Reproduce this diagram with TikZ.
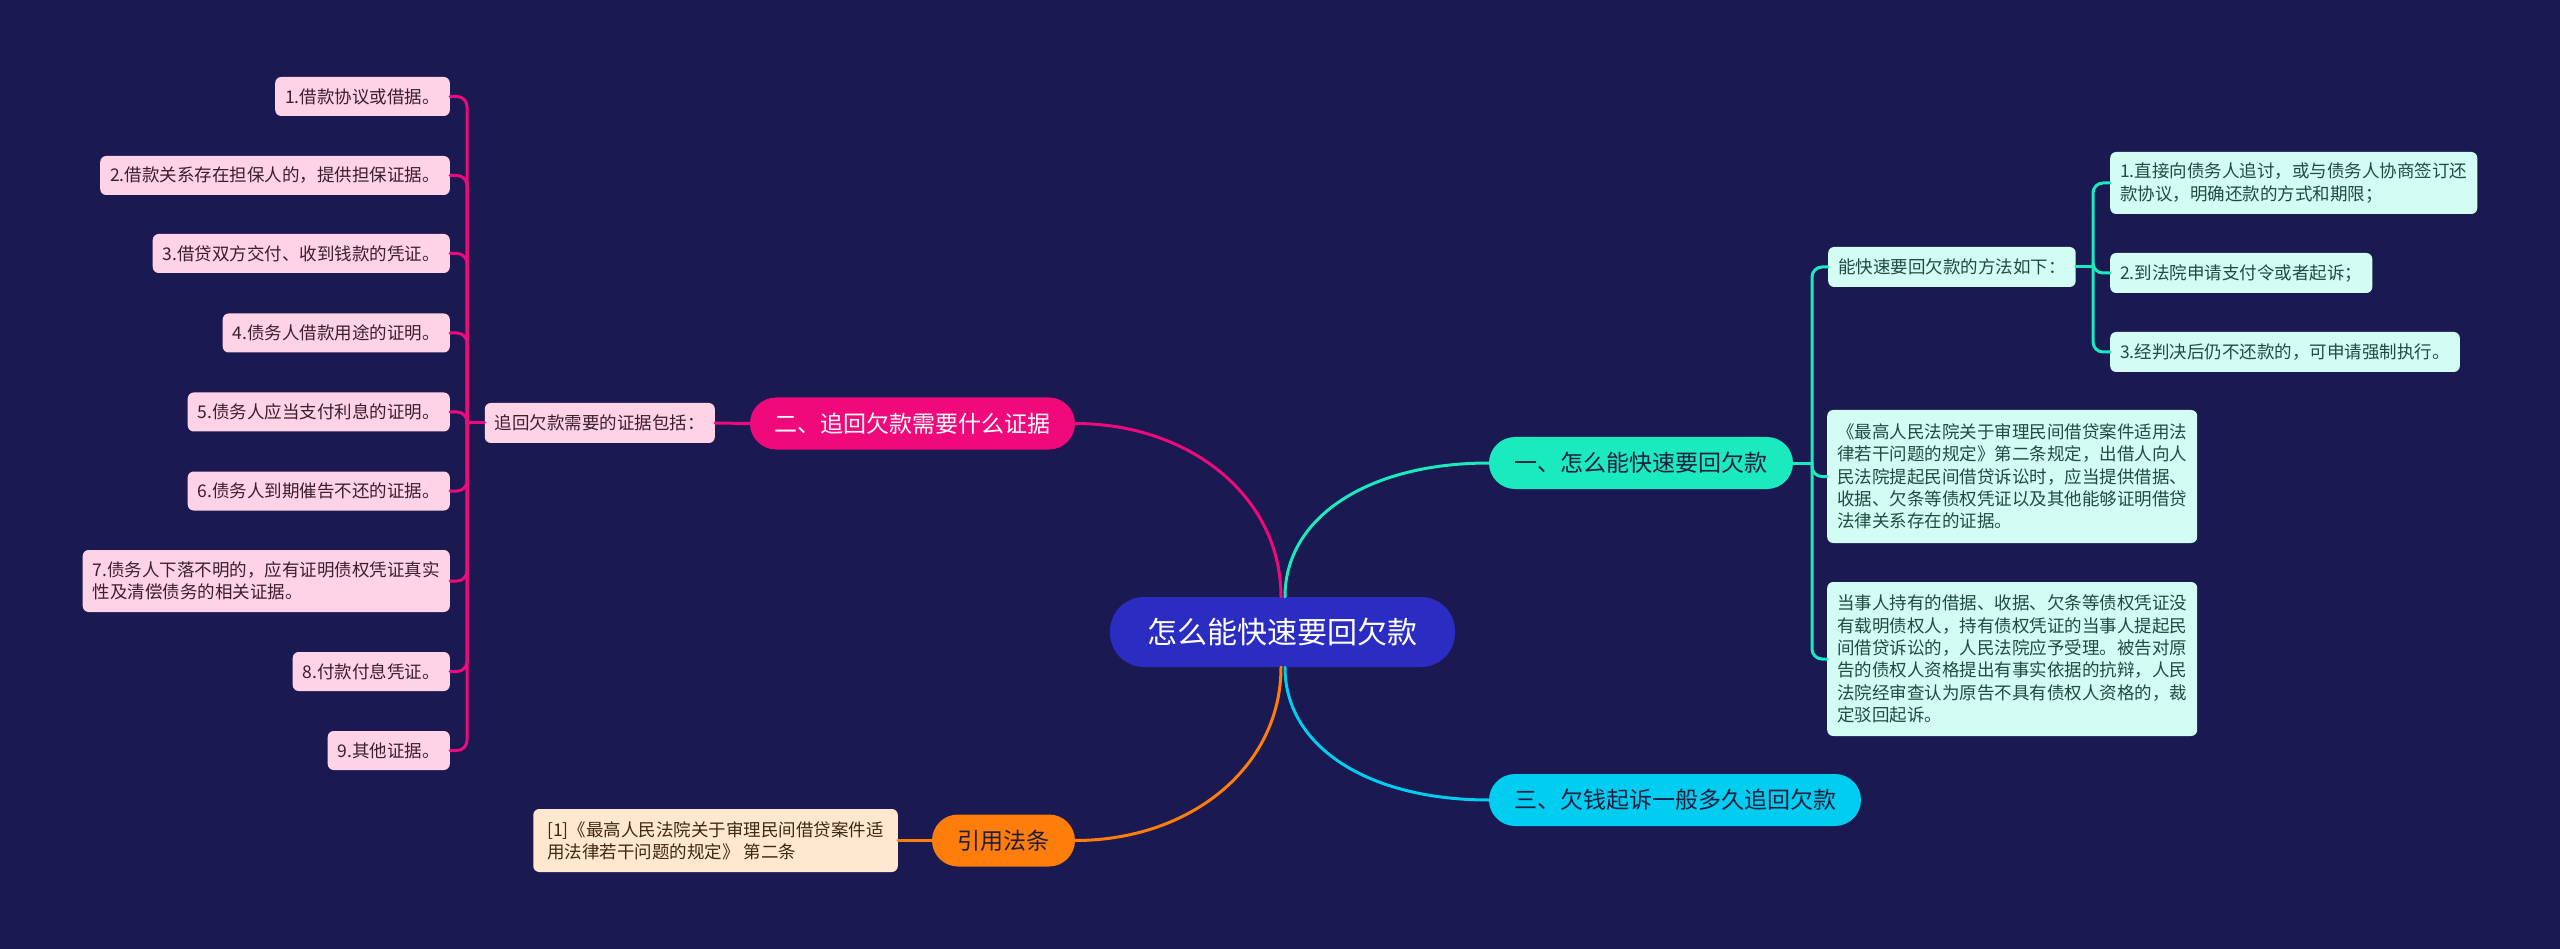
\documentclass[tikz,border=0pt]{standalone}
\usepackage{fontspec}
\setmainfont{Noto Sans CJK SC}
\definecolor{bg}{HTML}{1A1952}
\definecolor{rootc}{HTML}{2A2CC2}
\definecolor{tealc}{HTML}{1BE9BE}
\definecolor{pinkc}{HTML}{F0097B}
\definecolor{cyanc}{HTML}{00CDEF}
\definecolor{orangec}{HTML}{FF7D0A}
\definecolor{tealbox}{HTML}{D3FCF2}
\definecolor{pinkbox}{HTML}{FFD3E6}
\definecolor{orangebox}{HTML}{FFE8CF}
\definecolor{tealtext}{HTML}{1E4C45}
\definecolor{pinktext}{HTML}{3A1F2D}
\definecolor{orangetext}{HTML}{3D2A14}
\definecolor{darktext}{HTML}{1D1D3F}
\tikzset{
  rootbox/.style={fill=rootc, text=white, rounded corners=34, minimum width=345, minimum height=70, inner sep=0, font=\fontsize{30}{36}\selectfont},
  branchbox/.style={rounded corners=26, minimum height=52, inner sep=0, font=\fontsize{23}{28}\selectfont},
  leafbox/.style={rounded corners=6, inner xsep=10, inner ysep=0, align=left, font=\fontsize{17.5}{22.3}\selectfont},
  tleaf/.style={leafbox, fill=tealbox, text=tealtext},
  pleaf/.style={leafbox, fill=pinkbox, text=pinktext},
  oleaf/.style={leafbox, fill=orangebox, text=orangetext},
  link/.style={line width=3, line cap=round},
  brk/.style={link, rounded corners=10}
}
\begin{document}
\begin{tikzpicture}[x=1pt,y=-1pt]
\fill[bg] (0,0) rectangle (2560,949);
\useasboundingbox (0,0) rectangle (2560,949);

% central
\node[rootbox] (root) at (1282.5,632) {怎么能快速要回欠款};

% branches
\node[branchbox, fill=tealc, text=darktext, minimum width=304] (B1) at (1641,463) {一、怎么能快速要回欠款};
\node[branchbox, fill=pinkc, text=white, minimum width=325] (B2) at (912.5,423.5) {二、追回欠款需要什么证据};
\node[branchbox, fill=cyanc, text=darktext, minimum width=372] (B3) at (1675,800) {三、欠钱起诉一般多久追回欠款};
\node[branchbox, fill=orangec, text=darktext, minimum width=143] (B4) at (1003.5,840.5) {引用法条};

% root connectors
\draw[link, pinkc] ([xshift=-1.5pt]root.north) .. controls +(0,-100) and +(115,0) .. (B2.east);
\draw[link, tealc] ([xshift=2.5pt]root.north) .. controls +(0,-80) and +(-120,0) .. (B1.west);
\draw[link, orangec] ([xshift=-1.5pt]root.south) .. controls +(0,100) and +(115,0) .. (B4.east);
\draw[link, cyanc] ([xshift=2.5pt]root.south) .. controls +(0,80) and +(-120,0) .. (B3.west);

% branch 1 children
\node[tleaf, anchor=west, minimum height=40] (C1) at (1828,267) {能快速要回欠款的方法如下：};
\node[tleaf, anchor=west, minimum height=133] (C2) at (1827,476.5) {《最高人民法院关于审理民间借贷案件适用法\\律若干问题的规定》第二条规定，出借人向人\\民法院提起民间借贷诉讼时，应当提供借据、\\收据、欠条等债权凭证以及其他能够证明借贷\\法律关系存在的证据。};
\node[tleaf, anchor=west, minimum height=154] (C3) at (1827,659) {当事人持有的借据、收据、欠条等债权凭证没\\有载明债权人，持有债权凭证的当事人提起民\\间借贷诉讼的，人民法院应予受理。被告对原\\告的债权人资格提出有事实依据的抗辩，人民\\法院经审查认为原告不具有债权人资格的，裁\\定驳回起诉。};

\coordinate (rb) at (1812,463);
\draw[link, tealc] (B1.east) -- (rb);
\draw[brk, tealc] (rb) |- (C1.west);
\draw[brk, tealc] (rb) |- (C2.west);
\draw[brk, tealc] (rb) |- (C3.west);

% grandchildren
\node[tleaf, anchor=west, minimum height=62] (G1) at (2110,183) {1.直接向债务人追讨，或与债务人协商签订还\\款协议，明确还款的方式和期限；};
\node[tleaf, anchor=west, minimum height=40] (G2) at (2110,273) {2.到法院申请支付令或者起诉；};
\node[tleaf, anchor=west, minimum height=40] (G3) at (2110,352) {3.经判决后仍不还款的，可申请强制执行。};

\coordinate (cb) at (2093,267);
\draw[link, tealc] (C1.east) -- (cb);
\draw[brk, tealc] (cb) |- (G1.west);
\draw[brk, tealc] (cb) |- (G2.west);
\draw[brk, tealc] (cb) |- (G3.west);

% branch 2 children
\node[pleaf, anchor=east, minimum height=40] (L0) at (715,423) {追回欠款需要的证据包括：};
\draw[link, pinkc] (B2.west) -- (L0.east);

\node[pleaf, anchor=east, minimum height=39] (P1) at (450,96.5) {1.借款协议或借据。};
\node[pleaf, anchor=east, minimum height=39] (P2) at (450,175.5) {2.借款关系存在担保人的，提供担保证据。};
\node[pleaf, anchor=east, minimum height=39] (P3) at (450,253.5) {3.借贷双方交付、收到钱款的凭证。};
\node[pleaf, anchor=east, minimum height=39] (P4) at (450,333) {4.债务人借款用途的证明。};
\node[pleaf, anchor=east, minimum height=39] (P5) at (450,412) {5.债务人应当支付利息的证明。};
\node[pleaf, anchor=east, minimum height=39] (P6) at (450,491) {6.债务人到期催告不还的证据。};
\node[pleaf, anchor=east, minimum height=62] (P7) at (450,581) {7.债务人下落不明的，应有证明债权凭证真实\\性及清偿债务的相关证据。};
\node[pleaf, anchor=east, minimum height=39] (P8) at (450,671.5) {8.付款付息凭证。};
\node[pleaf, anchor=east, minimum height=39] (P9) at (450,750.5) {9.其他证据。};

\coordinate (lb) at (467,423);
\draw[link, pinkc] (L0.west) -- (lb);
\foreach \i in {1,...,9} {
  \draw[brk, pinkc] (lb) |- (P\i.east);
}

% branch 4 child
\node[oleaf, anchor=east, minimum height=63, inner xsep=14] (R1) at (898,840.5) {[1]《最高人民法院关于审理民间借贷案件适\\用法律若干问题的规定》 第二条};
\draw[link, orangec] (B4.west) -- (R1.east);
\end{tikzpicture}
\end{document}
